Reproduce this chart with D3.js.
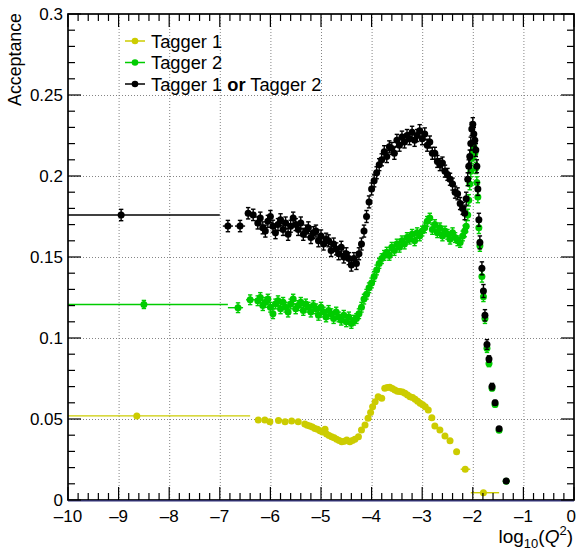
<!DOCTYPE html>
<html><head><meta charset="utf-8">
<script src="https://cdn.jsdelivr.net/npm/d3@7"></script>
<style>body{margin:0;background:#fff} text{font-family:"Liberation Sans",Arial,Helvetica,sans-serif}</style>
</head><body><svg id="c" width="577" height="552"></svg>
<script>
// ---------------- DATA ----------------
const seriesNames = ["Tagger 1", "Tagger 2", "Tagger 1 or Tagger 2"];
const xTickValues = [-10,-9,-8,-7,-6,-5,-4,-3,-2,-1,0];
const yTickValues = [0,0.05,0.1,0.15,0.2,0.25,0.3];

// shared fine bins (centres) for Tagger 2 and "or"
const fineX = [-6.25,-6.20,-6.15,-6.10,-6.05,-6.00,-5.95,-5.90,-5.85,-5.80,
  -5.75,-5.70,-5.65,-5.60,-5.55,-5.50,-5.45,-5.40,-5.35,-5.30,
  -5.25,-5.20,-5.15,-5.10,-5.05,-5.00,-4.95,-4.90,-4.85,-4.80,
  -4.75,-4.70,-4.65,-4.60,-4.55,-4.50,-4.45,-4.40,-4.35,-4.30,
  -4.25,-4.20,-4.15,-4.10,-4.05,-4.00,-3.95,-3.90,-3.85,-3.80,
  -3.75,-3.70,-3.65,-3.60,-3.55,-3.50,-3.45,-3.40,-3.35,-3.30,
  -3.25,-3.20,-3.15,-3.10,-3.05,-3.00,-2.95,-2.90,-2.85,-2.80,
  -2.75,-2.70,-2.65,-2.60,-2.55,-2.50,-2.45,-2.40,-2.35,-2.30,
  -2.25,-2.20];
const fineHalfWidth = 0.025;

const orFineY = [0.171,0.174,0.168,0.166,0.172,0.175,0.169,0.165,0.170,0.173,
  0.167,0.171,0.164,0.169,0.174,0.170,0.167,0.171,0.164,0.166,
  0.168,0.162,0.165,0.166,0.160,0.163,0.158,0.161,0.160,0.154,
  0.158,0.155,0.152,0.156,0.150,0.152,0.149,0.145,0.149,0.146,
  0.152,0.158,0.166,0.175,0.184,0.192,0.197,0.202,0.207,0.210,
  0.215,0.212,0.218,0.217,0.214,0.222,0.219,0.224,0.221,0.225,
  0.223,0.227,0.222,0.225,0.228,0.223,0.226,0.219,0.221,0.214,
  0.214,0.209,0.207,0.208,0.203,0.201,0.198,0.195,0.190,0.189,
  0.183,0.180];
const orFineErr = 0.0037;

const t2FineY = [0.123,0.125,0.120,0.122,0.124,0.119,0.115,0.121,0.123,0.118,
  0.122,0.119,0.116,0.121,0.124,0.118,0.120,0.122,0.117,0.121,
  0.119,0.116,0.120,0.118,0.114,0.119,0.116,0.113,0.117,0.115,
  0.112,0.116,0.113,0.111,0.114,0.110,0.113,0.109,0.111,0.112,
  0.115,0.119,0.124,0.127,0.131,0.134,0.138,0.142,0.146,0.149,
  0.151,0.153,0.151,0.156,0.154,0.158,0.156,0.160,0.158,0.162,
  0.161,0.164,0.160,0.165,0.163,0.166,0.168,0.172,0.174,0.167,
  0.170,0.165,0.168,0.163,0.166,0.164,0.161,0.165,0.162,0.160,
  0.159,0.163];
const t2FineErr = 0.003;

// peak / falling-edge bins (shared by Tagger 2 and "or")
const peakX    = [-2.16,-2.13,-2.10,-2.08,-2.06,-2.04,-2.02,-2.00,-1.98,-1.96,-1.94,-1.92,-1.90,-1.88,-1.86,-1.82,-1.79,-1.76,-1.72,-1.68,-1.62,-1.56,-1.48,-1.34];
const peakXErr = [0.015,0.015,0.01,0.01,0.01,0.01,0.01,0.01,0.01,0.01,0.01,0.01,0.01,0.01,0.01,0.015,0.015,0.02,0.02,0.025,0.03,0.035,0.045,0.065];
const orPeakY  = [0.177,0.186,0.198,0.206,0.212,0.220,0.229,0.232,0.226,0.222,0.216,0.206,0.192,0.173,0.159,0.143,0.129,0.114,0.096,0.087,0.070,0.060,0.044,0.0117];
const orPeakErr= [0.004,0.004,0.004,0.004,0.004,0.004,0.004,0.004,0.004,0.004,0.004,0.004,0.004,0.004,0.004,0.004,0.004,0.0035,0.003,0.002,0.002,0.0015,0.001,0.001];
const t2PeakY  = [0.166,0.169,0.176,0.185,0.195,0.203,0.211,0.215,0.218,0.214,0.205,0.196,0.187,0.168,0.157,0.138,0.1255,0.112,0.0936,0.0843,0.069,0.059,0.043,0.0115];
const t2PeakErr= [0.0035,0.0035,0.0035,0.0035,0.0035,0.0035,0.0035,0.0035,0.0035,0.0035,0.0035,0.0035,0.0035,0.0035,0.0035,0.0035,0.003,0.003,0.0025,0.002,0.0015,0.0015,0.001,0.001];

// wide low-Q2 bins: centre, value, low edge, high edge, error
const orWideX  = [-8.95,-6.84,-6.60,-6.44,-6.34];
const orWideY  = [0.1759,0.1691,0.1691,0.177,0.176];
const orWideLo = [-10,-6.94,-6.70,-6.50,-6.38];
const orWideHi = [-7.0,-6.74,-6.50,-6.38,-6.29];
const orWideErr= [0.0035,0.0035,0.0035,0.0035,0.0035];

const t2WideX  = [-8.50,-6.64,-6.40];
const t2WideY  = [0.1207,0.1187,0.1236];
const t2WideLo = [-10,-6.84,-6.48];
const t2WideHi = [-6.84,-6.54,-6.30];
const t2WideErr= [0.0025,0.003,0.003];

// Tagger 1
const t1X = [-6.24,-6.11,-6.01,-5.84,-5.71,-5.58,-5.45,-5.32,-5.27,-5.22,-5.17,-5.12,-5.07,-5.02,-4.97,-4.92,-4.89,-4.84,-4.79,-4.74,-4.69,-4.64,-4.59,-4.54,-4.49,-4.43,-4.38,-4.33,-4.26,-4.20,-4.13,-4.07,-4.02,-3.98,-3.93,-3.87,-3.80,-3.74,-3.69,-3.64,-3.59,-3.54,-3.49,-3.44,-3.39,-3.34,-3.29,-3.24,-3.19,-3.14,-3.09,-3.04,-2.99,-2.94,-2.88,-2.81,-2.75,-2.65,-2.55,-2.45,-2.32];
const t1Y = [0.0494,0.0494,0.0483,0.0490,0.0483,0.0488,0.0483,0.0469,0.0462,0.0457,0.0450,0.0442,0.0437,0.0428,0.0420,0.0436,0.0407,0.0398,0.0390,0.0384,0.0375,0.0368,0.0360,0.0362,0.0370,0.0360,0.0368,0.0375,0.0390,0.0432,0.0463,0.0504,0.0540,0.0576,0.0607,0.0638,0.0628,0.0690,0.0694,0.0696,0.0688,0.0679,0.0672,0.0669,0.0666,0.0659,0.0648,0.0638,0.0632,0.0622,0.0610,0.0597,0.0588,0.0576,0.0556,0.0508,0.0457,0.0432,0.0395,0.0366,0.0298];
const t1Err = 0.0008;
const t1HalfWidth = 0.03;
const t1WideX  = [-8.64,-2.15,-1.79];
const t1WideY  = [0.0519,0.019,0.0045];
const t1WideLo = [-10,-2.24,-2.04];
const t1WideHi = [-6.40,-2.05,-1.48];
const t1WideErr= [0.0008,0.0008,0.0006];

const colors = ["#cccc00","#00cc00","#000000"];

// ---------------- CHART ----------------
const svg = d3.select("#c");
const L=68, R=574, T=14, B=500;
const x = d3.scaleLinear().domain([-10,0]).range([L,R]);
const y = d3.scaleLinear().domain([0,0.3]).range([B,T]);

svg.append("rect").attr("width",577).attr("height",552).attr("fill","#fff");

// grid
const grid = svg.append("g").attr("stroke","#777").attr("stroke-width",0.9).attr("stroke-dasharray","1,2");
grid.selectAll("line.vx").data(xTickValues.slice(1,-1)).enter().append("line")
  .attr("x1",d=>x(d)+0.5).attr("x2",d=>x(d)+0.5).attr("y1",T).attr("y2",B);
grid.selectAll("line.hy").data(yTickValues.slice(1,-1)).enter().append("line")
  .attr("y1",d=>Math.round(y(d))+0.5).attr("y2",d=>Math.round(y(d))+0.5).attr("x1",L).attr("x2",R);

function build(xs, ys, lo, hi, err){
  return xs.map((v,i)=>({x:v,y:ys[i],lo:lo[i],hi:hi[i],e:err[i]}));
}
const t1Pts = build(t1WideX.slice(0,1),t1WideY.slice(0,1),t1WideLo.slice(0,1),t1WideHi.slice(0,1),t1WideErr.slice(0,1))
  .concat(t1X.map((v,i)=>({x:v,y:t1Y[i],lo:v-t1HalfWidth,hi:v+t1HalfWidth,e:t1Err})))
  .concat(build(t1WideX.slice(1),t1WideY.slice(1),t1WideLo.slice(1),t1WideHi.slice(1),t1WideErr.slice(1)));
const t2Pts = build(t2WideX,t2WideY,t2WideLo,t2WideHi,t2WideErr)
  .concat(fineX.map((v,i)=>({x:v,y:t2FineY[i],lo:v-fineHalfWidth,hi:v+fineHalfWidth,e:t2FineErr})))
  .concat(peakX.map((v,i)=>({x:v,y:t2PeakY[i],lo:v-peakXErr[i],hi:v+peakXErr[i],e:t2PeakErr[i]})));
const orPts = build(orWideX,orWideY,orWideLo,orWideHi,orWideErr)
  .concat(fineX.map((v,i)=>({x:v,y:orFineY[i],lo:v-fineHalfWidth,hi:v+fineHalfWidth,e:orFineErr})))
  .concat(peakX.map((v,i)=>({x:v,y:orPeakY[i],lo:v-peakXErr[i],hi:v+peakXErr[i],e:orPeakErr[i]})));

function drawSeries(pts,color){
  const g = svg.append("g");
  const eb = g.append("g").attr("stroke",color).attr("stroke-width",1.4).attr("fill","none");
  pts.forEach(p=>{
    eb.append("line").attr("x1",x(p.lo)).attr("x2",x(p.hi)).attr("y1",y(p.y)).attr("y2",y(p.y));
    eb.append("line").attr("x1",x(p.x)).attr("x2",x(p.x)).attr("y1",y(p.y-p.e)).attr("y2",y(p.y+p.e));
    [p.y-p.e,p.y+p.e].forEach(v=>eb.append("line").attr("x1",x(p.x)-2.2).attr("x2",x(p.x)+2.2).attr("y1",y(v)).attr("y2",y(v)));
  });
  g.selectAll("circle").data(pts).enter().append("circle")
    .attr("cx",d=>x(d.x)).attr("cy",d=>y(d.y)).attr("r",3.5).attr("fill",color);
}
drawSeries(t1Pts,colors[0]);
drawSeries(t2Pts,colors[1]);
drawSeries(orPts,colors[2]);

// frame
svg.append("rect").attr("x",L).attr("y",T).attr("width",R-L).attr("height",B-T)
  .attr("fill","none").attr("stroke","#000").attr("stroke-width",1.7);
svg.append("line").attr("x1",L).attr("x2",R).attr("y1",B+0.8).attr("y2",B+0.8).attr("stroke","#33337f").attr("stroke-width",1.2);

// ticks
const tk = svg.append("g").attr("stroke","#000").attr("stroke-width",1.2);
const majL=13, minL=7;
const xMinor = x.ticks(50), yMinor = y.ticks(30);
xMinor.forEach(v=>{
  const isMaj = xTickValues.some(m=>Math.abs(m-v)<1e-9);
  const len = isMaj?majL:minL;
  tk.append("line").attr("x1",x(v)).attr("x2",x(v)).attr("y1",B).attr("y2",B-len);
  tk.append("line").attr("x1",x(v)).attr("x2",x(v)).attr("y1",T).attr("y2",T+len);
});
yMinor.forEach(v=>{
  const isMaj = yTickValues.some(m=>Math.abs(m-v)<1e-9);
  const len = isMaj?majL:minL;
  tk.append("line").attr("y1",y(v)).attr("y2",y(v)).attr("x1",L).attr("x2",L+len);
  tk.append("line").attr("y1",y(v)).attr("y2",y(v)).attr("x1",R).attr("x2",R-len);
});

// tick labels
svg.selectAll("text.xl").data(xTickValues).enter().append("text")
  .attr("x",d=>d===0?576:x(d)).attr("y",522)
  .attr("text-anchor",d=>d===0?"end":"middle").attr("font-size",17)
  .text(d=>d<0?"\u2013"+Math.abs(d):"0");
svg.selectAll("text.yl").data(yTickValues).enter().append("text")
  .attr("x",63).attr("y",d=>y(d)+5.5).attr("text-anchor","end").attr("font-size",17)
  .text(d=>String(+d.toFixed(2)));

// axis titles
svg.append("text").attr("transform","translate(21,13) rotate(-90)").attr("text-anchor","end")
  .attr("font-size",17.8).text("Acceptance");
const xt = svg.append("text").attr("x",573).attr("y",543).attr("text-anchor","end").attr("font-size",19);
xt.append("tspan").text("log");
xt.append("tspan").attr("font-size",13).attr("dy",5).text("10");
xt.append("tspan").attr("dy",-5).text("(");
xt.append("tspan").attr("font-style","italic").text("Q");
xt.append("tspan").attr("font-size",13).attr("dy",-8).text("2");
xt.append("tspan").attr("dy",8).text(")");

// legend
const legY = [41,62.5,84];
seriesNames.forEach((name,i)=>{
  const g = svg.append("g");
  g.append("line").attr("x1",125).attr("x2",145).attr("y1",legY[i]).attr("y2",legY[i]).attr("stroke",colors[i]).attr("stroke-width",1.5);
  g.append("circle").attr("cx",135).attr("cy",legY[i]).attr("r",3.3).attr("fill",colors[i]);
  const t = g.append("text").attr("x",151).attr("y",legY[i]+6.5).attr("font-size",18.3);
  if(i<2){ t.text(name); }
  else {
    t.append("tspan").text("Tagger 1 ");
    t.append("tspan").attr("font-weight","bold").text("or");
    t.append("tspan").text(" Tagger 2");
  }
});
</script></body></html>
